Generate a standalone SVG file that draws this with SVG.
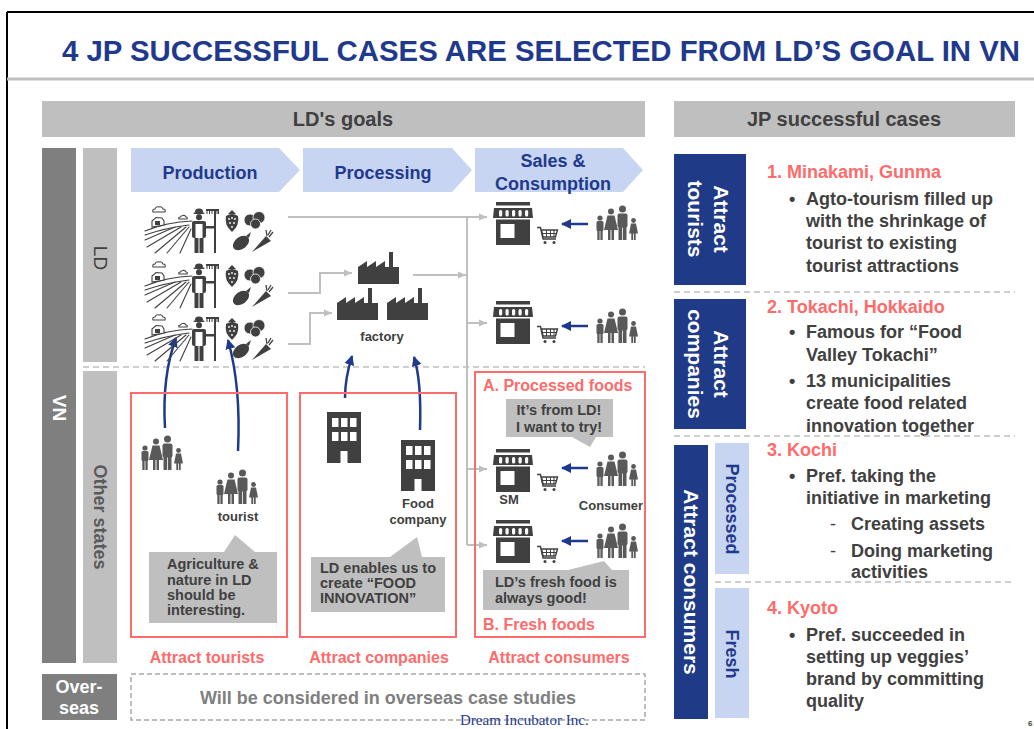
<svg xmlns="http://www.w3.org/2000/svg" xmlns:xlink="http://www.w3.org/1999/xlink" width="1034" height="729" viewBox="0 0 1034 729">
  <style>
    text { font-family: "Liberation Sans", Arial, sans-serif; font-weight: bold; }
    .title { font-size: 29px; fill: #1F3A8C; }
    .hdr { font-size: 20px; fill: #404040; text-anchor: middle; }
    .chev { font-size: 18px; fill: #1F3A8C; text-anchor: middle; }
    .lbl { font-size: 13px; fill: #404040; text-anchor: middle; }
    .call { font-size: 14.5px; fill: #404040; }
    .red { font-size: 16px; fill: #FF6B6B; }
    .redc { font-size: 16px; fill: #FF6B6B; text-anchor: middle; }
    .case { font-size: 18px; fill: #FF6B6B; }
    .body { font-size: 18px; fill: #404040; }
    .vwhite { font-size: 21px; fill: #FFFFFF; text-anchor: middle; }
    .vblue { font-size: 18px; fill: #1F3A8C; text-anchor: middle; }
    .gbox { fill: #BFBFBF; }
    .redbox { fill: none; stroke: #FF6B6B; stroke-width: 2; }
    .conn { fill: none; stroke: #BFBFBF; stroke-width: 2; }
    .flow { fill: none; stroke: #1F3A8C; stroke-width: 2.5; }
    .dash { fill: none; stroke: #BFBFBF; stroke-width: 1.5; stroke-dasharray: 6 4; }
  </style>
  <defs>
    <marker id="gArrow" markerUnits="userSpaceOnUse" markerWidth="9" markerHeight="8" refX="8" refY="4" orient="auto">
      <path d="M0,0.5 L8,4 L0,7.5 Z" fill="#BFBFBF"/>
    </marker>
    <marker id="bArrow" markerUnits="userSpaceOnUse" markerWidth="11" markerHeight="11" refX="9" refY="5.5" orient="auto">
      <path d="M0,0.5 L10,5.5 L0,10.5 Z" fill="#1F3A8C"/>
    </marker>

    <!-- field with farmer and produce -->
    <g id="farm">
      <g fill="none" stroke="#404040" stroke-width="1.1" stroke-linecap="round">
        <path d="M8,7 H20 Q21,4 18,4 Q17,1 14,2 Q11,1 10,4 Q7,4 8,7 Z"/>
        <path d="M34,14 H42 Q43,12 41,12 Q40,10 38,10.5 Q36,10.5 35.5,12 Q33,12 34,14 Z"/>
        <path d="M0,26 Q22,17 47,16"/>
        <path d="M0,30 Q20,23 44,20"/>
        <path d="M0,35 L30,22 M2,42 L36,22 M10,48 L41,22 M22,48 L44,22 M35,48 L46,24"/>
      </g>
      <path d="M7,22 V16 L11,12.5 L17,13 L19,16 V20 Z" fill="#FFFFFF" stroke="#404040" stroke-width="1.1"/>
      <rect x="10" y="16" width="5" height="4" fill="#404040"/>
      <g fill="#404040">
        <ellipse cx="54" cy="6.5" rx="4" ry="3"/>
        <rect x="48.5" y="7.5" width="11" height="1.6" rx="0.8"/>
        <circle cx="54" cy="12.3" r="3"/>
        <rect x="47" y="16" width="14" height="17" rx="2"/>
        <rect x="50.5" y="19" width="7" height="14" fill="#FFFFFF"/>
        <rect x="49.5" y="33" width="4" height="15"/>
        <rect x="54.5" y="33" width="4" height="15"/>
        <rect x="60" y="21" width="10" height="2.5"/>
        <rect x="69" y="4" width="2" height="44"/>
        <rect x="61" y="4" width="13" height="2"/>
        <path d="M62,6 V9 M64.5,6 V9 M67,6 V9 M72,6 V9 M73.5,6 V9" stroke="#404040" stroke-width="1"/>
        <!-- strawberry -->
        <path d="M81,11 Q87,7 93,11 Q95,20 87,27 Q79,20 81,11 Z"/>
        <path d="M83,9 L87,5 L91,9 Z"/>
        <g fill="#FFFFFF">
          <circle cx="84" cy="14" r="0.9"/><circle cx="87" cy="13" r="0.9"/><circle cx="90" cy="14" r="0.9"/>
          <circle cx="85" cy="18" r="0.9"/><circle cx="89" cy="18" r="0.9"/><circle cx="87" cy="22" r="0.9"/>
        </g>
        <!-- tomatoes -->
        <g stroke="#FFFFFF" stroke-width="0.8">
          <circle cx="105" cy="15" r="6"/>
          <circle cx="114" cy="12.5" r="6"/>
          <circle cx="110.5" cy="19" r="5"/>
        </g>
        <!-- eggplant -->
        <ellipse cx="96" cy="38" rx="9" ry="6" transform="rotate(-35 96 38)"/>
        <path d="M101,31 L106,27 L104,33 Z"/>
        <!-- carrot -->
        <path d="M107,47 L121,31 L126,36 Z"/>
        <path d="M122,31 L121,25 M124,32 L128,27 M123,30 L126,25" stroke="#404040" stroke-width="1.3" fill="none"/>
      </g>
    </g>

    <g id="store" fill="#404040">
      <rect x="3" y="0" width="34" height="3.5"/>
      <path d="M1,6 H39 L40,16 H0 Z"/>
      <g fill="#FFFFFF">
        <rect x="6" y="8" width="3.2" height="6.5" rx="1.5"/>
        <rect x="12.5" y="8" width="3.2" height="6.5" rx="1.5"/>
        <rect x="19" y="8" width="3.2" height="6.5" rx="1.5"/>
        <rect x="25.5" y="8" width="3.2" height="6.5" rx="1.5"/>
        <rect x="32" y="8" width="3.2" height="6.5" rx="1.5"/>
      </g>
      <rect x="3" y="17.5" width="34" height="25.5"/>
      <rect x="7.5" y="22" width="14" height="14" fill="#FFFFFF"/>
    </g>

    <g id="cart" fill="none" stroke="#404040" stroke-width="1.4">
      <path d="M0,1.5 H3.5 L6,13 H19"/>
      <path d="M4.5,4 H20.5 L18.5,11 H6 Z"/>
      <path d="M9.5,4 V11 M13.5,4 V11 M17,4 V11 M5.5,7.5 H19.5" stroke-width="1"/>
      <circle cx="8" cy="16.5" r="1.5" fill="#404040" stroke="none"/>
      <circle cx="17" cy="16.5" r="1.5" fill="#404040" stroke="none"/>
    </g>

    <g id="family" fill="#595959">
      <circle cx="5" cy="13" r="2.6"/>
      <rect x="1.5" y="16" width="7" height="10" rx="1.5"/>
      <rect x="2.3" y="25" width="2.3" height="10"/>
      <rect x="5.4" y="25" width="2.3" height="10"/>
      <circle cx="16" cy="6.5" r="3"/>
      <path d="M12.5,10.5 H19.5 L23,25 H9 Z"/>
      <rect x="13" y="24" width="2.5" height="11"/>
      <rect x="16.5" y="24" width="2.5" height="11"/>
      <circle cx="27.5" cy="4" r="3.5"/>
      <rect x="22.5" y="8.5" width="10" height="14" rx="2"/>
      <rect x="23.5" y="21" width="3.6" height="14"/>
      <rect x="27.9" y="21" width="3.6" height="14"/>
      <circle cx="38.5" cy="15.5" r="2.4"/>
      <path d="M36,18.5 H41 L43,28.5 H34 Z"/>
      <rect x="36.3" y="28" width="1.8" height="7"/>
      <rect x="38.9" y="28" width="1.8" height="7"/>
    </g>

    <path id="factory" d="M0,32 V15 L9,9 V15 L18,9 V15 L27,9 V15 H31 V0 H35 V15 H41 V32 Z" fill="#404040"/>

    <g id="building">
      <rect x="0" y="0" width="34" height="51" fill="#404040"/>
      <g fill="#FFFFFF">
        <rect x="5" y="6" width="6.5" height="9"/>
        <rect x="14" y="6" width="6.5" height="9"/>
        <rect x="23" y="6" width="6.5" height="9"/>
        <rect x="5" y="20" width="6.5" height="9"/>
        <rect x="14" y="20" width="6.5" height="9"/>
        <rect x="23" y="20" width="6.5" height="9"/>
        <rect x="13.5" y="39" width="7" height="12"/>
      </g>
    </g>
  </defs>

  <rect x="0" y="0" width="1034" height="729" fill="#FFFFFF"/>

  <!-- slide frame and title -->
  <g id="frame">
    <path d="M7,12 H1034 M7,12 V729" stroke="#000000" stroke-width="2" fill="none"/>
    <line x1="7" y1="79" x2="1034" y2="79" stroke="#C0C0C0" stroke-width="3"/>
    <text class="title" x="62" y="61" textLength="958" lengthAdjust="spacingAndGlyphs">4 JP SUCCESSFUL CASES ARE SELECTED FROM LD’S GOAL IN VN</text>
  </g>

  <!-- section headers -->
  <g id="hdr-goals">
    <rect class="gbox" x="42" y="101" width="603" height="36"/>
    <text class="hdr" x="343" y="126">LD's goals</text>
  </g>
  <g id="hdr-cases">
    <rect class="gbox" x="674" y="101" width="341" height="36"/>
    <text class="hdr" x="844" y="126">JP successful cases</text>
  </g>

  <!-- row labels -->
  <g id="band-vn">
    <rect x="42" y="148" width="34" height="515" fill="#7F7F7F"/>
    <text transform="translate(59,408) rotate(90)" x="0" y="6.5" font-size="19" fill="#FFFFFF" text-anchor="middle">VN</text>
  </g>
  <g id="band-ld">
    <rect class="gbox" x="83" y="148" width="34" height="214"/>
    <text transform="translate(100,258) rotate(90)" x="0" y="6.5" font-size="19" fill="#404040" text-anchor="middle" style="font-weight:normal">LD</text>
  </g>
  <g id="band-other">
    <rect class="gbox" x="83" y="371" width="34" height="292"/>
    <text transform="translate(100,517) rotate(90)" x="0" y="6.5" font-size="18" fill="#595959" text-anchor="middle">Other states</text>
  </g>
  <line class="dash" x1="83" y1="367" x2="645" y2="367"/>

  <!-- value chain stages -->
  <g id="stage-production">
    <path d="M131,148 H279 L300,170 L279,192 H131 Z" fill="#C7D4F2"/>
    <text class="chev" x="210" y="179">Production</text>
  </g>
  <g id="stage-processing">
    <path d="M303,148 H452 L472,170 L452,192 H303 Z" fill="#C7D4F2"/>
    <text class="chev" x="383" y="179">Processing</text>
  </g>
  <g id="stage-sales">
    <path d="M475,148 H623 L643,170 L623,192 H475 Z" fill="#C7D4F2"/>
    <text class="chev" x="553" y="167">Sales &amp;</text>
    <text class="chev" x="553" y="190">Consumption</text>
  </g>

  <!-- connectors -->
  <g id="connectors">
    <path class="conn" d="M288,217 H487" marker-end="url(#gArrow)"/>
    <path class="conn" d="M288,293 H320 V273 H352" marker-end="url(#gArrow)"/>
    <path class="conn" d="M288,344 H310 V313 H332" marker-end="url(#gArrow)"/>
    <path class="conn" d="M413,275 H466" marker-end="url(#gArrow)"/>
    <path class="conn" d="M467,217 V545"/>
    <path class="conn" d="M467,323 H487" marker-end="url(#gArrow)"/>
    <path class="conn" d="M467,469 H487" marker-end="url(#gArrow)"/>
    <path class="conn" d="M467,545 H487" marker-end="url(#gArrow)"/>

    <path class="flow" d="M165,428 C163,395 166,365 176,338" marker-end="url(#bArrow)"/>
    <path class="flow" d="M238,451 C240,410 237,372 228,340" marker-end="url(#bArrow)"/>
    <path class="flow" d="M345,398 C345,385 347,372 352,356" marker-end="url(#bArrow)"/>
    <path class="flow" d="M420,430 C421,400 420,376 414,357" marker-end="url(#bArrow)"/>

    <path class="flow" stroke-width="3" d="M588,224 H562" marker-end="url(#bArrow)"/>
    <path class="flow" stroke-width="3" d="M588,326 H562" marker-end="url(#bArrow)"/>
    <path class="flow" stroke-width="3" d="M588,468 H562" marker-end="url(#bArrow)"/>
    <path class="flow" stroke-width="3" d="M588,541 H562" marker-end="url(#bArrow)"/>
  </g>

  <!-- LD production -->
  <g id="farms">
    <use xlink:href="#farm" x="145" y="205"/>
    <use xlink:href="#farm" x="145" y="260"/>
    <use xlink:href="#farm" x="145" y="313"/>
  </g>

  <!-- LD processing -->
  <g id="factories">
    <use xlink:href="#factory" x="358" y="252"/>
    <use xlink:href="#factory" x="337" y="288"/>
    <use xlink:href="#factory" x="387" y="288"/>
    <text class="lbl" x="382" y="341">factory</text>
  </g>

  <!-- LD sales -->
  <g id="shop-1">
    <use xlink:href="#store" x="493" y="202"/>
    <use xlink:href="#cart" x="537" y="226"/>
    <use xlink:href="#family" x="595" y="205"/>
  </g>
  <g id="shop-2">
    <use xlink:href="#store" x="493" y="301"/>
    <use xlink:href="#cart" x="537" y="325"/>
    <use xlink:href="#family" x="595" y="308"/>
  </g>

  <!-- other states: tourists -->
  <g id="box-tourists">
    <rect class="redbox" x="131" y="393" width="156" height="244"/>
    <use xlink:href="#family" x="140" y="435"/>
    <use xlink:href="#family" x="215" y="469"/>
    <text class="lbl" x="238" y="521">tourist</text>
    <path class="gbox" d="M149,552 H224 L235,535 L255,552 H277 V623 H149 Z"/>
    <text class="call" x="167" y="569">Agriculture &amp;</text>
    <text class="call" x="167" y="585">nature in LD</text>
    <text class="call" x="167" y="600">should be</text>
    <text class="call" x="167" y="615">interesting.</text>
    <text class="redc" x="207" y="663">Attract tourists</text>
  </g>

  <!-- other states: companies -->
  <g id="box-companies">
    <rect class="redbox" x="300" y="393" width="156" height="244"/>
    <use xlink:href="#building" x="327" y="412"/>
    <use xlink:href="#building" x="401" y="440"/>
    <text class="lbl" x="418" y="508">Food</text>
    <text class="lbl" x="418" y="524">company</text>
    <path class="gbox" d="M311,557 H390 L417,537 L422,557 H445 V612 H311 Z"/>
    <text class="call" x="320" y="573">LD enables us to</text>
    <text class="call" x="320" y="588">create “FOOD</text>
    <text class="call" x="320" y="603">INNOVATION”</text>
    <text class="redc" x="379" y="663">Attract companies</text>
  </g>

  <!-- other states: consumers -->
  <g id="box-consumers">
    <rect class="redbox" x="475" y="372" width="170" height="265"/>
    <text class="red" x="483" y="391">A. Processed foods</text>
    <path class="gbox" d="M506,399 H613 V437 H596 L590,447 L572,437 H506 Z"/>
    <text class="call" x="559" y="415" text-anchor="middle">It’s from LD!</text>
    <text class="call" x="559" y="432" text-anchor="middle">I want to try!</text>
    <use xlink:href="#store" x="493" y="449"/>
    <use xlink:href="#cart" x="537" y="473"/>
    <use xlink:href="#family" x="595" y="451"/>
    <text class="lbl" x="509" y="504">SM</text>
    <text class="lbl" x="611" y="510">Consumer</text>
    <use xlink:href="#store" x="493" y="520"/>
    <use xlink:href="#cart" x="537" y="545"/>
    <use xlink:href="#family" x="595" y="523"/>
    <path class="gbox" d="M483,570 H568 L604,561 L612,570 H629 V610 H483 Z"/>
    <text class="call" x="495" y="587">LD’s fresh food is</text>
    <text class="call" x="495" y="603">always good!</text>
    <text class="red" x="483" y="630">B. Fresh foods</text>
    <text class="redc" x="559" y="663">Attract consumers</text>
  </g>

  <!-- overseas -->
  <g id="overseas">
    <rect x="42" y="674" width="75" height="46" fill="#7F7F7F"/>
    <text x="79" y="693" font-size="18" fill="#FFFFFF" text-anchor="middle">Over-</text>
    <text x="79" y="714" font-size="18" fill="#FFFFFF" text-anchor="middle">seas</text>
    <rect x="131" y="674" width="514" height="46" fill="none" stroke="#A6A6A6" stroke-width="1.5" stroke-dasharray="5 3"/>
    <text x="388" y="704" font-size="18" fill="#7F7F7F" text-anchor="middle">Will be considered in overseas case studies</text>
  </g>

  <!-- JP successful cases -->
  <g id="case-1">
    <rect x="674" y="154" width="72" height="131" fill="#1F3A87"/>
    <g transform="translate(710,219) rotate(90)">
      <text class="vwhite" x="0" y="-3.5">Attract</text>
      <text class="vwhite" x="0" y="22">tourists</text>
    </g>
    <text class="case" x="767" y="178">1. Minakami, Gunma</text>
    <text class="body" x="789" y="205">•</text>
    <text class="body" x="806" y="205">Agto-tourism filled up</text>
    <text class="body" x="806" y="227">with the shrinkage of</text>
    <text class="body" x="806" y="249">tourist to existing</text>
    <text class="body" x="806" y="272">tourist attractions</text>
  </g>
  <line class="dash" x1="674" y1="292" x2="1015" y2="292"/>

  <g id="case-2">
    <rect x="674" y="299" width="72" height="130" fill="#1F3A87"/>
    <g transform="translate(710,364) rotate(90)">
      <text class="vwhite" x="0" y="-3.5">Attract</text>
      <text class="vwhite" x="0" y="22">companies</text>
    </g>
    <text class="case" x="767" y="313">2. Tokachi, Hokkaido</text>
    <text class="body" x="789" y="338">•</text>
    <text class="body" x="806" y="338">Famous for “Food</text>
    <text class="body" x="806" y="361">Valley Tokachi”</text>
    <text class="body" x="789" y="387">•</text>
    <text class="body" x="806" y="387">13 municipalities</text>
    <text class="body" x="806" y="409">create food related</text>
    <text class="body" x="806" y="432">innovation together</text>
  </g>
  <line class="dash" x1="674" y1="436" x2="1015" y2="436"/>

  <g id="consumers-label">
    <rect x="674" y="445" width="34" height="274" fill="#1F3A87"/>
    <text class="vwhite" transform="translate(691,582) rotate(90)" x="0" y="7.5">Attract consumers</text>
  </g>

  <g id="case-3">
    <rect x="715" y="443" width="34" height="131" fill="#C7D4F2"/>
    <text class="vblue" transform="translate(732,509) rotate(90)" x="0" y="6.5">Processed</text>
    <text class="case" x="767" y="456">3. Kochi</text>
    <text class="body" x="789" y="482">•</text>
    <text class="body" x="806" y="482">Pref. taking the</text>
    <text class="body" x="806" y="504">initiative in marketing</text>
    <text class="body" x="830" y="530" style="font-weight:normal">-</text>
    <text class="body" x="851" y="530">Creating assets</text>
    <text class="body" x="830" y="557" style="font-weight:normal">-</text>
    <text class="body" x="851" y="557">Doing marketing</text>
    <text class="body" x="851" y="578">activities</text>
  </g>
  <line class="dash" x1="715" y1="582" x2="1015" y2="582"/>

  <g id="case-4">
    <rect x="715" y="588" width="34" height="130" fill="#C7D4F2"/>
    <text class="vblue" transform="translate(732,654) rotate(90)" x="0" y="6.5">Fresh</text>
    <text class="case" x="767" y="614">4. Kyoto</text>
    <text class="body" x="789" y="641">•</text>
    <text class="body" x="806" y="641">Pref. succeeded in</text>
    <text class="body" x="806" y="663">setting up veggies’</text>
    <text class="body" x="806" y="685">brand by committing</text>
    <text class="body" x="806" y="707">quality</text>
  </g>

  <!-- footer -->
  <g id="footer">
    <text x="460" y="725" font-size="15" fill="#1F3A8C" style="font-family:'Liberation Serif','Times New Roman',serif;font-weight:normal">Dream Incubator Inc.</text>
    <text x="1028" y="726" font-size="8" fill="#404040">6</text>
  </g>
</svg>
